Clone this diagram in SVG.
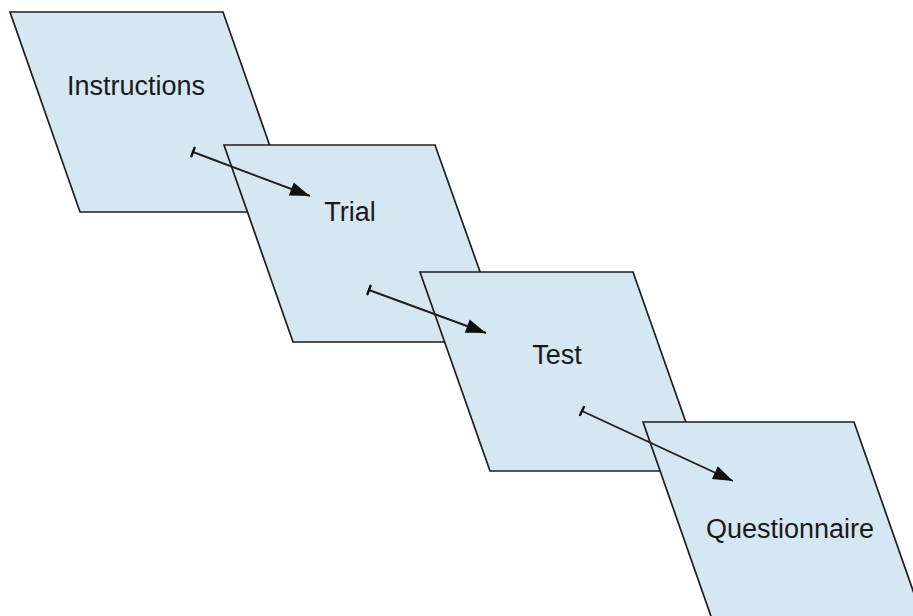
<svg xmlns="http://www.w3.org/2000/svg" width="913" height="616" viewBox="0 0 913 616">
<style>
.shape{fill:#d6e7f4;stroke:#1e1e1e;stroke-width:1.7;stroke-linejoin:miter}
.label{font-family:"Liberation Sans",Arial,sans-serif;font-size:27px;fill:#1a1a1a;text-anchor:middle}
.conn{stroke:#1e1e1e;stroke-width:1.9;fill:none}
</style>
<defs>
<marker id="head" markerUnits="userSpaceOnUse" markerWidth="24" markerHeight="18" viewBox="0 0 24 18" refX="22" refY="9" orient="auto">
<path d="M2,2 L22,9 L2,16 Z" fill="#111"/>
</marker>
<marker id="tail" markerUnits="userSpaceOnUse" markerWidth="6" markerHeight="12" viewBox="0 0 6 12" refX="2" refY="6" orient="auto">
<path d="M2,1.5 L2,10.5" stroke="#111" stroke-width="2.4" stroke-linecap="round"/>
</marker>
</defs>
<rect width="913" height="616" fill="#ffffff"/>
<g id="instructions">
<polygon class="shape" points="10,12 223,12 293,212 80,212"/>
<text class="label" x="136" y="95">Instructions</text>
</g>
<g id="trial">
<polygon class="shape" points="224,145 435,145 505,342 293,342"/>
<text class="label" x="350" y="221">Trial</text>
</g>
<g id="test">
<polygon class="shape" points="420,272 633,272 703,471 490,471"/>
<text class="label" x="557" y="364">Test</text>
</g>
<g id="questionnaire">
<polygon class="shape" points="643,422 854,422 924,622 713,622"/>
<text class="label" x="790" y="538">Questionnaire</text>
</g>
<g id="connectors">
<line class="conn" x1="193" y1="152" x2="310" y2="196" marker-start="url(#tail)" marker-end="url(#head)"/>
<line class="conn" x1="369" y1="290" x2="486" y2="333" marker-start="url(#tail)" marker-end="url(#head)"/>
<line class="conn" x1="582" y1="411" x2="733" y2="481" marker-start="url(#tail)" marker-end="url(#head)"/>
</g>
</svg>
